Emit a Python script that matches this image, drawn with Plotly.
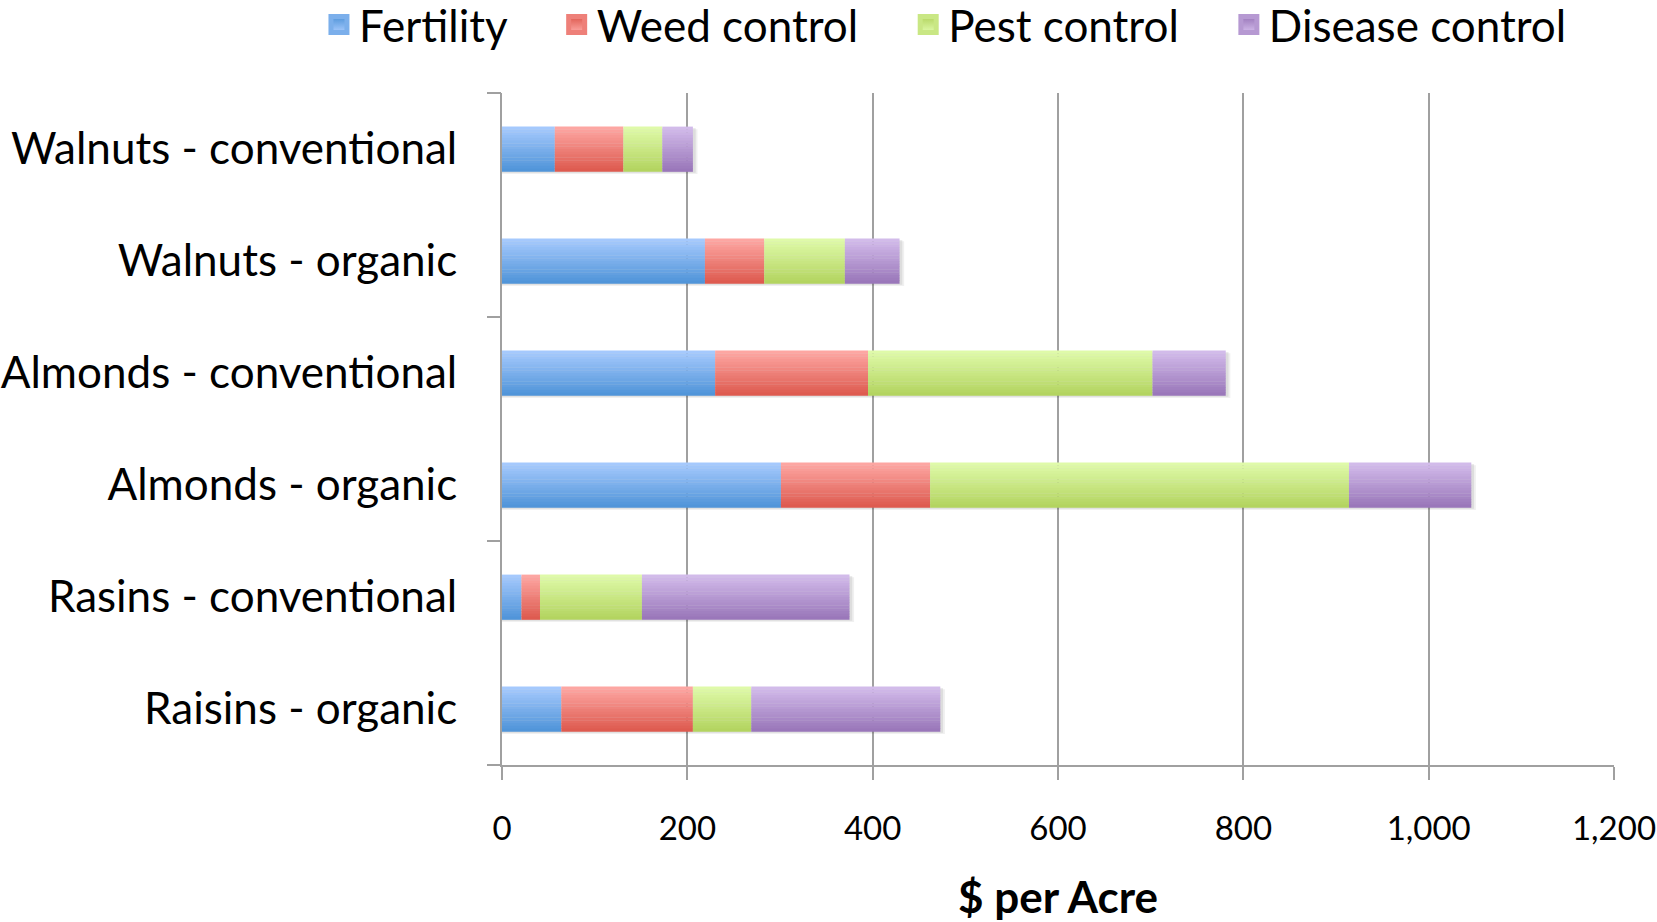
import plotly.graph_objects as go
import numpy as np

categories = ["Walnuts - conventional", "Walnuts - organic", "Almonds - conventional",
              "Almonds - organic", "Rasins - conventional", "Raisins - organic"]
fertility = [57, 219, 230, 301, 21, 64]
weed_control = [74, 64, 165, 161, 20, 142]
pest_control = [42, 87, 307, 452, 110, 63]
disease_control = [33, 59, 79, 132, 224, 204]

series_names = ["Fertility", "Weed control", "Pest control", "Disease control"]
series_values = [fertility, weed_control, pest_control, disease_control]
# gradient (top, bottom) colours
series_colors = [("#a8cbfe", "#4e93d8"), ("#fea9a5", "#dd584d"),
                 ("#e0fbab", "#b2d35e"), ("#d4bdec", "#9875b8")]

FONT = "Lato"
BAR_W = 0.4
N_SLICES = 16
step = BAR_W / N_SLICES
PAD = "\u00a0" * 4


def hex2rgb(h):
    h = h.lstrip("#")
    return np.array([int(h[i:i + 2], 16) for i in (0, 2, 4)], dtype=float)


def mix(c1, c2, t):
    c = hex2rgb(c1) * (1 - t) + hex2rgb(c2) * t
    return "rgb(%d,%d,%d)" % tuple(np.round(c).astype(int))


fig = go.Figure()

totals = np.sum(np.array(series_values), axis=0)
# soft shadow
for k, (dx, a) in enumerate([(5, 0.06), (3, 0.08)]):
    fig.add_trace(go.Bar(
        y=categories, x=totals + dx, base=0, orientation="h",
        width=BAR_W, offset=-BAR_W / 2 + 0.012 * (2 - k),
        marker=dict(color="rgba(0,0,0,%s)" % a, line=dict(width=0)),
        showlegend=False, hoverinfo="skip"))

bases = np.zeros(len(categories))
for idx, (name, vals, (ctop, cbot)) in enumerate(zip(series_names, series_values, series_colors)):
    vals = np.array(vals, dtype=float)
    for i in range(N_SLICES):
        t = (i + 0.5) / N_SLICES
        fig.add_trace(go.Bar(
            y=categories, x=vals, base=bases, orientation="h",
            width=step * 1.15, offset=-BAR_W / 2 + i * step,
            marker=dict(color=mix(ctop, cbot, t), line=dict(width=0)),
            name=name, legendgroup=name, showlegend=False,
            hovertemplate=name + ": %{x}<extra></extra>"))
    bases = bases + vals
    # legend entry
    label = name + (PAD if idx < len(series_names) - 1 else "")
    fig.add_trace(go.Scatter(
        x=[None], y=[None], mode="markers", name=label, legendgroup=name,
        marker=dict(symbol="square", size=30, color=cbot,
                    gradient=dict(type="vertical", color=ctop),
                    line=dict(width=5, color=mix(ctop, cbot, 0.5)))))

# boundary ticks axis
fig.add_trace(go.Scatter(x=[None], y=[None], yaxis="y2", showlegend=False, hoverinfo="skip"))

grid_col = "#a0a0a0"
fig.update_layout(
    width=1657, height=922,
    paper_bgcolor="white", plot_bgcolor="white",
    barmode="overlay",
    margin=dict(l=502, r=43, t=93, b=157, autoexpand=False),
    font=dict(family=FONT, color="black"),
    showlegend=True,
    legend=dict(orientation="h", x=-0.1646, xanchor="left", y=1.1015, yanchor="middle",
                font=dict(size=44, family=FONT), bgcolor="rgba(0,0,0,0)",
                itemclick=False, itemdoubleclick=False),
    xaxis=dict(range=[0, 1200], dtick=200, tick0=0, tickformat=",",
               showgrid=True, gridcolor=grid_col, gridwidth=2,
               showline=True, linecolor=grid_col, linewidth=2,
               ticks="outside", ticklen=13, tickwidth=2, tickcolor=grid_col,
               ticklabelstandoff=20,
               tickfont=dict(size=33, family=FONT),
               zeroline=False,
               title=dict(text="<b>$ per Acre</b>", font=dict(size=44, family=FONT), standoff=41)),
    yaxis=dict(type="category", categoryorder="array", categoryarray=categories,
               range=[len(categories) - 0.5, -0.5],
               showgrid=False, showline=True, linecolor=grid_col, linewidth=2,
               ticks="", ticklabelstandoff=34,
               tickfont=dict(size=44, family=FONT)),
    yaxis2=dict(overlaying="y", anchor="x", side="left",
                range=[len(categories) - 0.5, -0.5],
                tickvals=[-0.5, 1.5, 3.5, 5.5], showticklabels=False,
                ticks="outside", ticklen=14, tickwidth=2, tickcolor=grid_col,
                showgrid=False, showline=False, zeroline=False),
)

fig.write_html("out.html", config={"displayModeBar": False},
               post_script="document.body.style.margin='0';document.body.style.overflow='hidden';")
